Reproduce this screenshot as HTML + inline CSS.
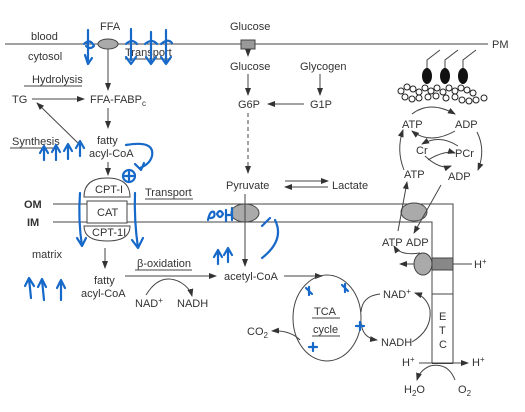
<!DOCTYPE html>
<html><head><meta charset="utf-8"><style>
html,body{margin:0;padding:0;background:#fff;}
svg{display:block;font-family:"Liberation Sans",sans-serif;}
text{font-size:11px;fill:#333;}
.b{fill:none;stroke:#1769c9;stroke-width:2.2;stroke-linecap:round;stroke-linejoin:round}
.l{stroke:#444;stroke-width:1;fill:none}
</style></head><body>
<svg width="525" height="412" viewBox="0 0 525 412">
<defs><marker id="a" markerWidth="8" markerHeight="6" refX="7" refY="3" orient="auto"><path d="M0,0 L8,3 L0,6 z" fill="#333"/></marker></defs>
<!-- plasma membrane -->
<line x1="5" y1="44" x2="488" y2="44" class="l"/>
<text x="492" y="48">PM</text>
<text x="31" y="40">blood</text>
<text x="28" y="60">cytosol</text>
<text x="100" y="30">FFA</text>
<ellipse cx="108" cy="44" rx="10" ry="5" fill="#aaa" stroke="#444"/>
<text x="125" y="56">Transport</text>
<line x1="125" y1="59" x2="171" y2="59" class="l"/>
<text x="230" y="30">Glucose</text>
<rect x="241" y="40" width="14" height="9" fill="#999" stroke="#444"/>
<line x1="248" y1="49" x2="248" y2="56" class="l" marker-end="url(#a)"/>
<text x="230" y="70">Glucose</text>
<text x="300" y="70">Glycogen</text>
<line x1="248" y1="74" x2="248" y2="95" class="l" marker-end="url(#a)"/>
<line x1="320" y1="74" x2="320" y2="95" class="l" marker-end="url(#a)"/>
<text x="238" y="108">G6P</text>
<text x="310" y="108">G1P</text>
<line x1="304" y1="104" x2="268" y2="104" class="l" marker-end="url(#a)"/>
<line x1="248" y1="113" x2="248" y2="173" class="l" stroke-dasharray="4,3" marker-end="url(#a)"/>
<text x="226" y="189">Pyruvate</text>
<text x="332" y="189">Lactate</text>
<line x1="285" y1="181" x2="328" y2="181" class="l" marker-end="url(#a)"/>
<line x1="328" y1="187" x2="285" y2="187" class="l" marker-end="url(#a)"/>
<!-- left cytosol -->
<text x="32" y="83">Hydrolysis</text>
<line x1="24" y1="86" x2="82" y2="86" class="l"/>
<text x="12" y="103">TG</text>
<line x1="32" y1="99" x2="84" y2="99" class="l" marker-end="url(#a)"/>
<text x="90" y="103">FFA-FABP<tspan font-size="8" dy="3">c</tspan></text>
<line x1="108" y1="49" x2="108" y2="90" class="l" marker-end="url(#a)"/>
<line x1="108" y1="108" x2="108" y2="128" class="l" marker-end="url(#a)"/>
<text x="97" y="144">fatty</text>
<text x="89" y="157">acyl-CoA</text>
<text x="12" y="145">Synthesis</text>
<line x1="10" y1="148" x2="58" y2="148" class="l"/>
<line x1="80" y1="145" x2="37" y2="103" class="l" marker-end="url(#a)"/>
<line x1="108" y1="162" x2="108" y2="175" class="l" marker-end="url(#a)"/>
<!-- mitochondria membranes -->
<polyline points="53,204 453,204 453,363" class="l"/>
<polyline points="53,222 432,222 432,363" class="l"/>
<line x1="432" y1="363" x2="453" y2="363" stroke="#333" stroke-width="2"/>
<text x="24" y="208" font-weight="bold">OM</text>
<text x="27" y="226" font-weight="bold">IM</text>
<path d="M84,197 Q84,178 107,178 Q130,178 130,197 Z" fill="#fff" stroke="#444"/>
<text x="95" y="193">CPT-I</text>
<rect x="87" y="201" width="40" height="22" fill="#fff" stroke="#444"/>
<text x="97" y="216">CAT</text>
<path d="M84,226 Q84,241 107,241 Q130,241 130,226 Z" fill="#fff" stroke="#444"/>
<text x="92" y="236" font-size="10">CPT-1I</text>
<text x="145" y="196">Transport</text>
<line x1="145" y1="199" x2="193" y2="199" class="l"/>
<text x="32" y="258">matrix</text>
<line x1="105" y1="248" x2="105" y2="268" class="l" marker-end="url(#a)"/>
<text x="94" y="284">fatty</text>
<text x="81" y="297">acyl-CoA</text>
<text x="137" y="267">β-oxidation</text>
<line x1="135" y1="270" x2="192" y2="270" class="l"/>
<line x1="125" y1="276" x2="216" y2="276" class="l" marker-end="url(#a)"/>
<path d="M146,295 Q160,272 180,282 Q190,288 192,296" class="l" marker-end="url(#a)"/>
<text x="135" y="307">NAD<tspan font-size="8" dy="-4">+</tspan></text>
<text x="177" y="307">NADH</text>
<ellipse cx="245" cy="213" rx="14" ry="9" fill="#aaa" stroke="#444"/>
<line x1="245" y1="194" x2="245" y2="266" class="l" marker-end="url(#a)"/>
<text x="224" y="280">acetyl-CoA</text>
<line x1="284" y1="276" x2="322" y2="276" class="l" marker-end="url(#a)"/>
<ellipse cx="327" cy="318" rx="34" ry="43" fill="none" stroke="#444"/>
<text x="314" y="315">TCA</text>
<line x1="312" y1="318" x2="340" y2="318" class="l"/>
<text x="313" y="333">cycle</text>
<line x1="312" y1="336" x2="340" y2="336" class="l"/>
<path d="M300,340 Q290,330 272,331" class="l" marker-end="url(#a)"/>
<text x="247" y="335">CO<tspan font-size="8" dy="3">2</tspan></text>
<path d="M361,312 Q362,296 380,294" class="l"/>
<path d="M361,322 Q362,338 377,340" class="l" marker-end="url(#a)"/>
<text x="383" y="298">NAD<tspan font-size="8" dy="-4">+</tspan></text>
<text x="381" y="346">NADH</text>
<path d="M412,342 Q432,330 430,310" class="l"/>
<path d="M430,310 Q427,297 415,293" class="l" marker-end="url(#a)"/>
<rect x="432" y="294" width="21" height="69" fill="#fff" stroke="#444"/>
<text x="439" y="320">E</text>
<text x="439" y="334">T</text>
<text x="439" y="348">C</text>
<text x="402" y="366">H<tspan font-size="8" dy="-4">+</tspan></text>
<line x1="419" y1="363" x2="468" y2="363" class="l" marker-end="url(#a)"/>
<text x="472" y="366">H<tspan font-size="8" dy="-4">+</tspan></text>
<path d="M455,380 Q448,362 430,366 Q420,370 417,380" class="l" marker-end="url(#a)"/>
<text x="404" y="393">H<tspan font-size="8" dy="3">2</tspan><tspan dy="-3">O</tspan></text>
<text x="458" y="393">O<tspan font-size="8" dy="3">2</tspan></text>
<!-- ATP synthase -->
<rect x="432" y="258" width="21" height="12" fill="#888" stroke="#444"/>
<line x1="453" y1="264" x2="472" y2="264" class="l"/>
<text x="474" y="268">H<tspan font-size="8" dy="-4">+</tspan></text>
<ellipse cx="423" cy="264" rx="9" ry="11" fill="#aaa" stroke="#444"/>
<line x1="414" y1="264" x2="400" y2="264" class="l" marker-end="url(#a)"/>
<path d="M420,253 Q400,256 394,246" class="l" marker-end="url(#a)"/>
<text x="382" y="246">ATP</text>
<text x="406" y="246">ADP</text>
<ellipse cx="414" cy="212" rx="13" ry="9" fill="#aaa" stroke="#444"/>
<line x1="398" y1="231" x2="407" y2="182" class="l" marker-end="url(#a)"/>
<line x1="441" y1="185" x2="414" y2="233" class="l" marker-end="url(#a)"/>
<!-- myofibril -->
<g>
<path d="M427,72 V60 L440,50 M445,72 V60 L458,50 M463,72 V60 L476,50" class="l"/>
<ellipse cx="427" cy="76" rx="5" ry="8" fill="#111"/><ellipse cx="445" cy="76" rx="5" ry="8" fill="#111"/><ellipse cx="463" cy="76" rx="5" ry="8" fill="#111"/>
</g>
<g fill="#fff" stroke="#222" stroke-width="1">
<circle cx="401" cy="91" r="3"/><circle cx="407" cy="87" r="3"/><circle cx="413" cy="89" r="3"/><circle cx="419" cy="92" r="3"/><circle cx="425" cy="88" r="3"/><circle cx="431" cy="91" r="3"/><circle cx="437" cy="88" r="3"/><circle cx="443" cy="92" r="3"/><circle cx="449" cy="88" r="3"/><circle cx="455" cy="91" r="3"/><circle cx="461" cy="88" r="3"/><circle cx="467" cy="90" r="3"/><circle cx="473" cy="93" r="3"/>
<circle cx="405" cy="97" r="3"/><circle cx="412" cy="99" r="3"/><circle cx="419" cy="98" r="3"/><circle cx="428" cy="97" r="3"/><circle cx="436" cy="96" r="3"/><circle cx="446" cy="98" r="3"/><circle cx="455" cy="97" r="3"/><circle cx="462" cy="100" r="3"/><circle cx="469" cy="101" r="3"/><circle cx="476" cy="100" r="3"/><circle cx="484" cy="98" r="3"/>
</g>
<path d="M412,114 Q430,100 455,114" class="l" marker-end="url(#a)"/>
<path d="M455,131 Q430,145 412,131" class="l" marker-end="url(#a)"/>
<text x="402" y="128">ATP</text>
<text x="455" y="128">ADP</text>
<path d="M458,146 Q440,134 422,144" class="l" marker-end="url(#a)"/>
<path d="M428,160 Q445,150 455,153" class="l" marker-end="url(#a)"/>
<path d="M425,156 Q440,170 451,166" class="l" marker-end="url(#a)"/>
<text x="416" y="154">Cr</text>
<text x="455" y="157">PCr</text>
<text x="404" y="178">ATP</text>
<text x="448" y="180">ADP</text>
<path d="M404,170 Q396,150 403,130" class="l" marker-end="url(#a)"/>
<path d="M477,132 Q486,150 478,170" class="l" marker-end="url(#a)"/>
<!-- blue handwritten annotations -->
<g>
<path class="b" d="M88,30 V60 M84,44 Q90,38 94,46 Q90,50 86,46 M85,55 L88,64 L92,58"/>
<path class="b" d="M131,29 V60 M126,44 Q132,38 137,44 M126,57 L131,64 L136,57"/>
<path class="b" d="M151,32 V62 M145,44 Q152,38 157,44 M146,57 L151,64 L156,57"/>
<path class="b" d="M166,30 V62 M161,44 Q168,38 172,43 M161,57 L166,64 L171,57"/>
<path class="b" d="M44,160 V148 M40,153 L44,146 L48,153 M56,160 V147 M52,152 L56,145 L60,152 M68,159 V146 M64,151 L68,144 L72,151 M80,156 V143 M76,148 L80,141 L84,148"/>
<path class="b" d="M126,145 Q155,140 152,156 Q150,164 140,168"/>
<path class="b" d="M135,164 L141,170 L144,163"/>
<circle cx="129" cy="176" r="6" class="b"/><path class="b" d="M129,172 V180 M125,176 H133"/>
<path class="b" d="M80,193 Q78,220 82,246 M77,238 L82,246 L86,238"/>
<path class="b" d="M135,193 Q134,220 138,248 M132,240 L138,248 L143,238"/>
<path class="b" d="M31,298 Q30,288 29,279 M25,286 L29,278 L34,286 M44,300 Q43,290 42,280 M38,287 L42,279 L46,287 M61,300 V282 M57,288 L61,280 L65,288"/>
<path class="b" d="M218,264 V252 M214,257 L218,250 L222,257 M228,262 V250 M224,255 L228,248 L232,255"/>
<path class="b" d="M208,220 Q210,210 214,212 Q216,218 210,218 M217,214 Q220,208 223,214 Q220,220 217,214 M226,210 V221 M226,215 H232 M232,208 V220"/>
<path class="b" d="M262,258 Q285,240 275,220 M262,226 L270,218"/>
<path class="b" d="M306,288 l6,6 M309,287 v8 M342,285 l6,6 M345,284 v8 M356,326 h8 M360,322 v8 M309,347 h8 M313,343 v8"/>
</g>
</svg>
</body></html>
